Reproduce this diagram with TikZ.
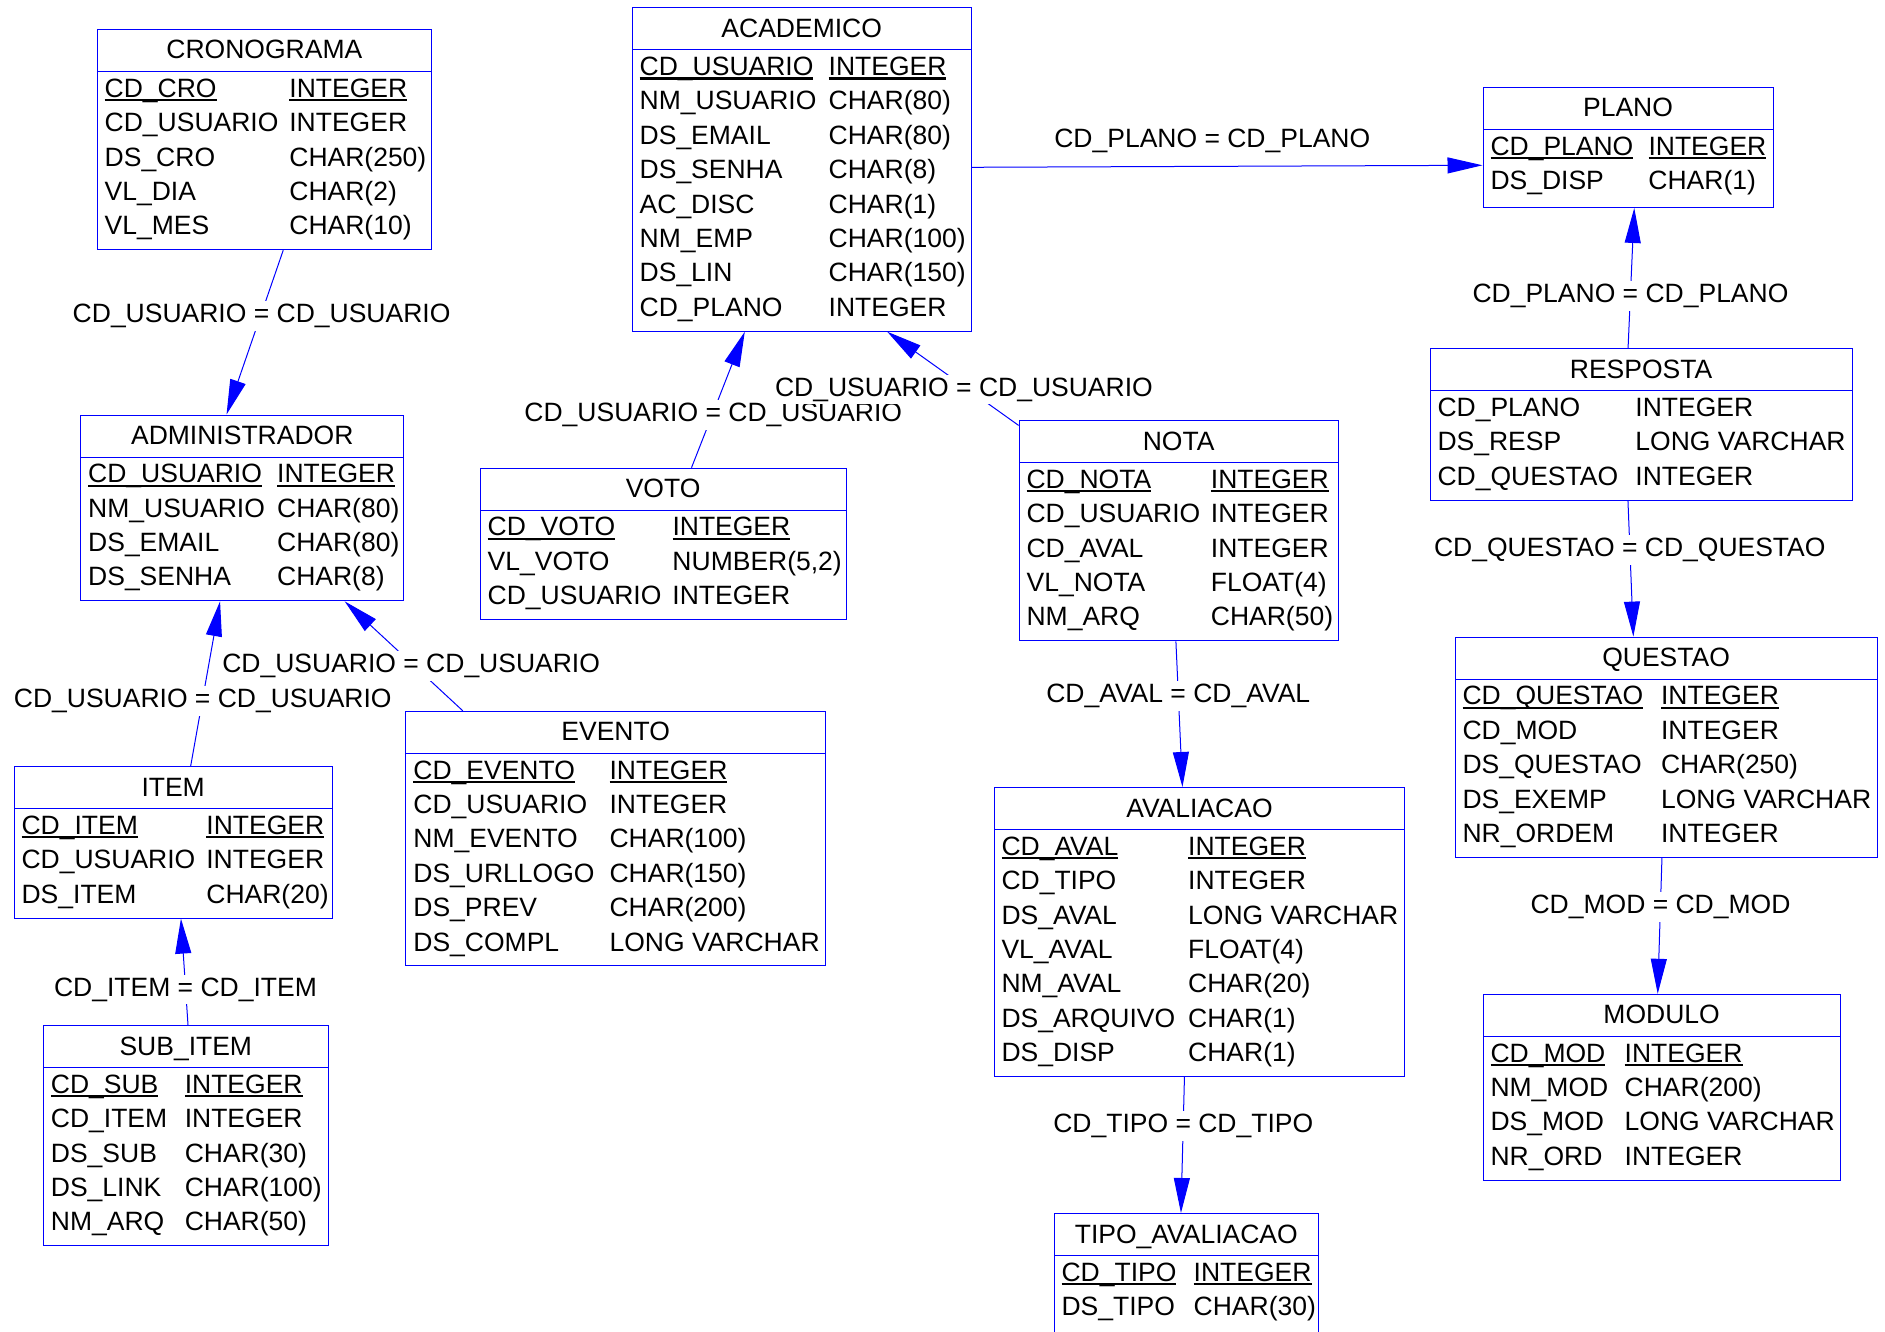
\documentclass[tikz,border=0pt]{standalone}
\usepackage{fontspec}
\setmainfont{Liberation Sans}
\usepackage{tikz}
\usetikzlibrary{shapes.multipart,arrows.meta}

\newcommand{\titulo}[1]{\rule[-8pt]{0pt}{33pt}#1}
\newcommand{\campos}[1]{\rlap{\raisebox{0pt}[\dimexpr\height-2.8pt\relax][\depth]{#1}}}
\newsavebox{\caixachave}
\newcommand{\chave}[1]{\leavevmode\sbox{\caixachave}{#1}\rlap{\rule[-4pt]{\wd\caixachave}{2.2pt}}\usebox{\caixachave}}

\begin{document}
\begin{tikzpicture}[x=1pt,y=-1pt,>={Triangle[length=35pt,width=16pt]},
		font=\fontsize{26.5}{34.4}\selectfont]
		\tikzstyle{tabela}=[rectangle split,rectangle split parts=2,
		rectangle split part align={center,left},draw=blue,line width=1pt,
		inner xsep=7.5pt,inner ysep=4pt,anchor=north west]
		\tikzstyle{rotulo}=[fill=white,inner sep=3pt,text=black,yshift=-3pt]
		\useasboundingbox (0,0) rectangle (1885,1332);
		
		\node[tabela,minimum width=334.3pt] (cro) at (96.7,29)
		{\titulo{CRONOGRAMA}\nodepart{two}\campos{\begin{tabular}{@{}p{184.7pt}@{}l@{}}
		\chave{CD\_CRO} & \chave{INTEGER}\\
		CD\_USUARIO & INTEGER\\
		DS\_CRO & CHAR(250)\\
		VL\_DIA & CHAR(2)\\
		VL\_MES & CHAR(10)
		\end{tabular}}};
		\node[tabela,minimum width=339pt] (acad) at (631.7,7.3)
		{\titulo{ACADEMICO}\nodepart{two}\campos{\begin{tabular}{@{}p{189pt}@{}l@{}}
		\chave{CD\_USUARIO} & \chave{INTEGER}\\
		NM\_USUARIO & CHAR(80)\\
		DS\_EMAIL & CHAR(80)\\
		DS\_SENHA & CHAR(8)\\
		AC\_DISC & CHAR(1)\\
		NM\_EMP & CHAR(100)\\
		DS\_LIN & CHAR(150)\\
		CD\_PLANO & INTEGER
		\end{tabular}}};
		\node[tabela,minimum width=290.1pt] (plano) at (1482.5,87)
		{\titulo{PLANO}\nodepart{two}\campos{\begin{tabular}{@{}p{158pt}@{}l@{}}
		\chave{CD\_PLANO} & \chave{INTEGER}\\
		DS\_DISP & CHAR(1)\rule[-13.3pt]{0pt}{0pt}
		\end{tabular}}};
		\node[tabela,minimum width=422.1pt] (resp) at (1429.5,348.3)
		{\titulo{RESPOSTA}\nodepart{two}\campos{\begin{tabular}{@{}p{198pt}@{}l@{}}
		CD\_PLANO & INTEGER\\
		DS\_RESP & LONG VARCHAR\\
		CD\_QUESTAO & INTEGER
		\end{tabular}}};
		\node[tabela,minimum width=323.1pt] (admin) at (80.2,414.5)
		{\titulo{ADMINISTRADOR}\nodepart{two}\campos{\begin{tabular}{@{}p{189pt}@{}l@{}}
		\chave{CD\_USUARIO} & \chave{INTEGER}\\
		NM\_USUARIO & CHAR(80)\\
		DS\_EMAIL & CHAR(80)\\
		DS\_SENHA & CHAR(8)
		\end{tabular}}};
		\node[tabela,minimum width=365.8pt] (voto) at (479.7,467.7)
		{\titulo{VOTO}\nodepart{two}\campos{\begin{tabular}{@{}p{184.8pt}@{}l@{}}
		\chave{CD\_VOTO} & \chave{INTEGER}\\
		VL\_VOTO & NUMBER(5,2)\\
		CD\_USUARIO & INTEGER
		\end{tabular}}};
		\node[tabela,minimum width=319pt] (nota) at (1018.6,420.1)
		{\titulo{NOTA}\nodepart{two}\campos{\begin{tabular}{@{}p{184.3pt}@{}l@{}}
		\chave{CD\_NOTA} & \chave{INTEGER}\\
		CD\_USUARIO & INTEGER\\
		CD\_AVAL & INTEGER\\
		VL\_NOTA & FLOAT(4)\\
		NM\_ARQ & CHAR(50)
		\end{tabular}}};
		\node[tabela,minimum width=419.6pt] (evento) at (405.4,710.8)
		{\titulo{EVENTO}\nodepart{two}\campos{\begin{tabular}{@{}p{196.2pt}@{}l@{}}
		\chave{CD\_EVENTO} & \chave{INTEGER}\\
		CD\_USUARIO & INTEGER\\
		NM\_EVENTO & CHAR(100)\\
		DS\_URLLOGO & CHAR(150)\\
		DS\_PREV & CHAR(200)\\
		DS\_COMPL & LONG VARCHAR
		\end{tabular}}};
		\node[tabela,minimum width=318.1pt] (item) at (13.6,766.2)
		{\titulo{ITEM}\nodepart{two}\campos{\begin{tabular}{@{}p{184.8pt}@{}l@{}}
		\chave{CD\_ITEM} & \chave{INTEGER}\\
		CD\_USUARIO & INTEGER\\
		DS\_ITEM & CHAR(20)
		\end{tabular}}};
		\node[tabela,minimum width=284.8pt] (sub) at (42.9,1025)
		{\titulo{SUB\_ITEM}\nodepart{two}\campos{\begin{tabular}{@{}p{133.9pt}@{}l@{}}
		\chave{CD\_SUB} & \chave{INTEGER}\\
		CD\_ITEM & INTEGER\\
		DS\_SUB & CHAR(30)\\
		DS\_LINK & CHAR(100)\\
		NM\_ARQ & CHAR(50)
		\end{tabular}}};
		\node[tabela,minimum width=410.9pt] (aval) at (993.5,787)
		{\titulo{AVALIACAO}\nodepart{two}\campos{\begin{tabular}{@{}p{186.7pt}@{}l@{}}
		\chave{CD\_AVAL} & \chave{INTEGER}\\
		CD\_TIPO & INTEGER\\
		DS\_AVAL & LONG VARCHAR\\
		VL\_AVAL & FLOAT(4)\\
		NM\_AVAL & CHAR(20)\\
		DS\_ARQUIVO & CHAR(1)\\
		DS\_DISP & CHAR(1)
		\end{tabular}}};
		\node[tabela,minimum width=264.3pt] (tipo) at (1053.6,1213)
		{\titulo{TIPO\_AVALIACAO}\nodepart{two}\campos{\begin{tabular}{@{}p{132.1pt}@{}l@{}}
		\chave{CD\_TIPO} & \chave{INTEGER}\\
		DS\_TIPO & CHAR(30)\rule[-13.3pt]{0pt}{0pt}
		\end{tabular}}};
		\node[tabela,minimum width=422.1pt] (questao) at (1454.5,636.6)
		{\titulo{QUESTAO}\nodepart{two}\campos{\begin{tabular}{@{}p{198.6pt}@{}l@{}}
		\chave{CD\_QUESTAO} & \chave{INTEGER}\\
		CD\_MOD & INTEGER\\
		DS\_QUESTAO & CHAR(250)\\
		DS\_EXEMP & LONG VARCHAR\\
		NR\_ORDEM & INTEGER
		\end{tabular}}};
		\node[tabela,minimum width=357.2pt] (modulo) at (1482.5,993.8)
		{\titulo{MODULO}\nodepart{two}\campos{\begin{tabular}{@{}p{134.2pt}@{}l@{}}
		\chave{CD\_MOD} & \chave{INTEGER}\\
		NM\_MOD & CHAR(200)\\
		DS\_MOD & LONG VARCHAR\\
		NR\_ORD & INTEGER
		\end{tabular}}};
		
		\path[->,blue,line width=1pt]
		([xshift=18.9pt]cro.south) edge node[rotulo,pos=0.382] {CD\_USUARIO = CD\_USUARIO} ([xshift=-15.7pt]admin.north)
		([yshift=2.2pt]acad.east) edge node[rotulo,pos=0.471,yshift=28.5pt] {CD\_PLANO = CD\_PLANO} ([yshift=-17.8pt]plano.west)
		([xshift=-13pt]resp.north) edge node[rotulo,pos=0.394] {CD\_PLANO = CD\_PLANO} ([xshift=6.2pt]plano.south)
		([xshift=28.4pt]voto.north) edge node[rotulo,pos=0.409] {CD\_USUARIO = CD\_USUARIO} ([xshift=-56.9pt]acad.south)
		([yshift=-5.3pt]nota.north west) edge node[rotulo,pos=0.416] {CD\_USUARIO = CD\_USUARIO} ([xshift=85.5pt]acad.south)
		([xshift=-13.1pt]resp.south) edge node[rotulo,pos=0.34] {CD\_QUESTAO = CD\_QUESTAO} ([xshift=-32.7pt]questao.north)
		([xshift=-2.7pt]nota.south) edge node[rotulo,pos=0.357] {CD\_AVAL = CD\_AVAL} ([xshift=-17pt]aval.north)
		([xshift=-152.9pt]evento.north) edge node[rotulo,pos=0.437] {CD\_USUARIO = CD\_USUARIO} ([xshift=102.4pt]admin.south)
		([xshift=17.5pt]item.north) edge node[rotulo,pos=0.412] {CD\_USUARIO = CD\_USUARIO} ([xshift=-22.2pt]admin.south)
		([xshift=2.2pt]sub.north) edge node[rotulo,pos=0.362] {CD\_ITEM = CD\_ITEM} ([xshift=7.8pt]item.south)
		([xshift=-4.1pt]questao.south) edge node[rotulo,pos=0.34] {CD\_MOD = CD\_MOD} ([xshift=-3.9pt]modulo.north)
		([xshift=-15pt]aval.south) edge node[rotulo,pos=0.337] {CD\_TIPO = CD\_TIPO} ([xshift=-5.3pt]tipo.north);
\end{tikzpicture}
\end{document}
